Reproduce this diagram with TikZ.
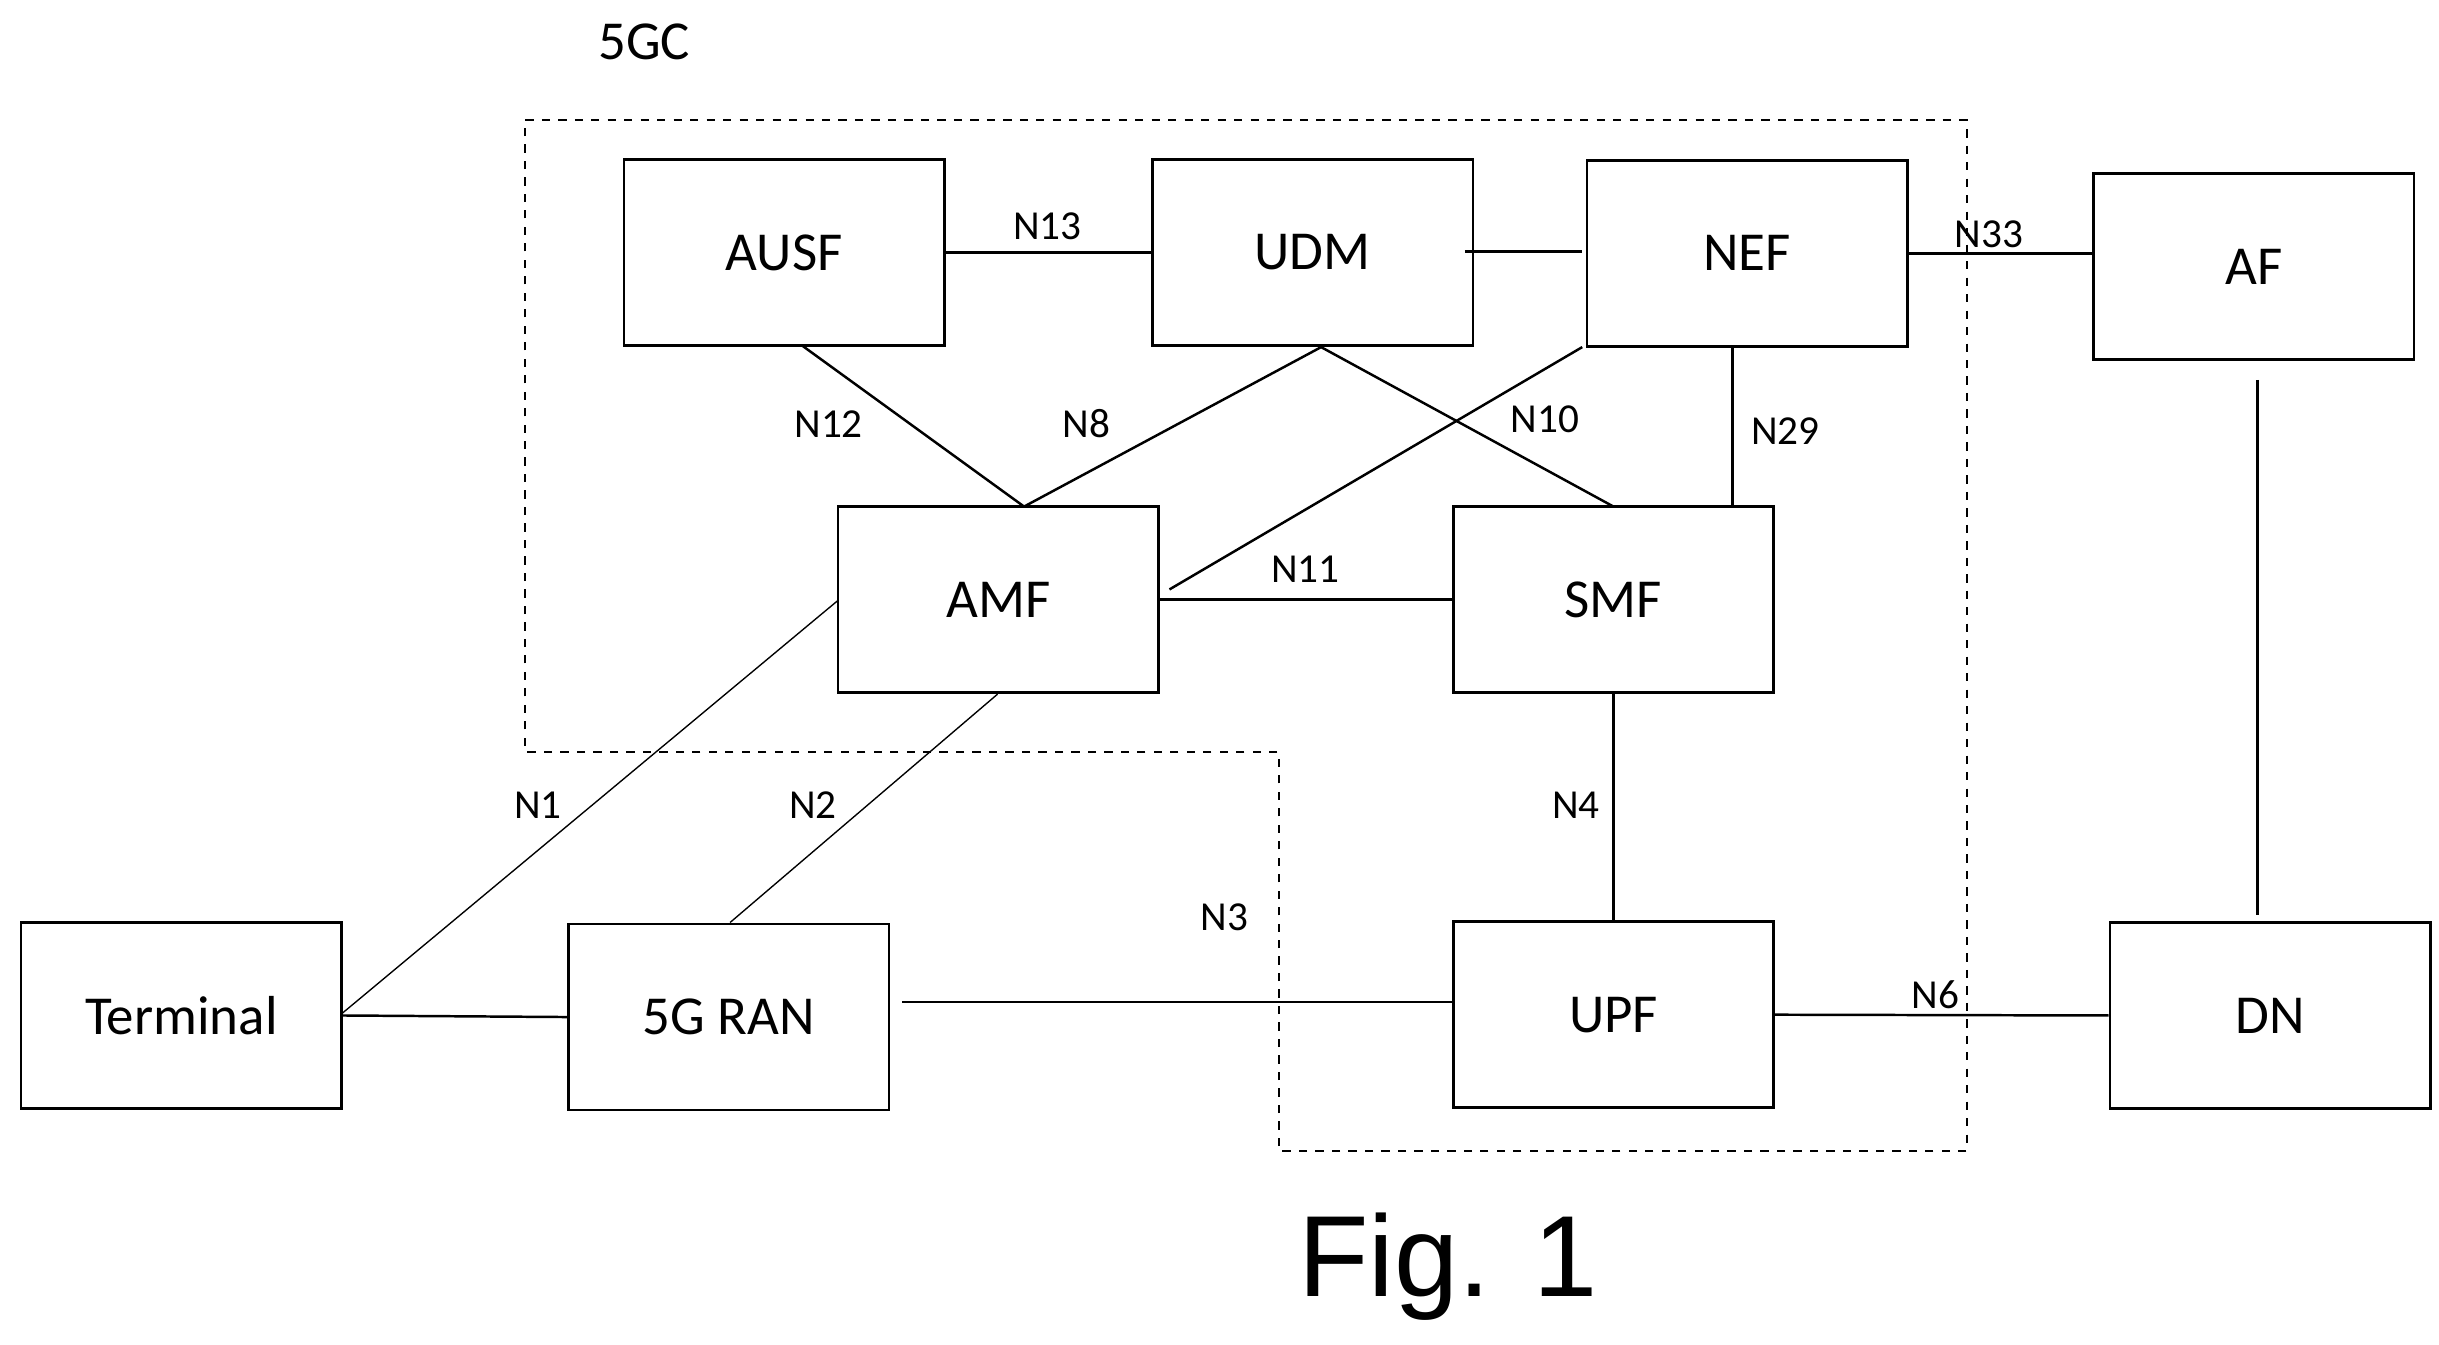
\documentclass[tikz,border=0pt]{standalone}
\usepackage{fontspec}
\setmainfont{Carlito}
\newfontfamily\figfont{Liberation Sans}
\begin{document}
\begin{tikzpicture}[x=0.02cm,y=-0.02cm,
  box/.style={draw,line width=0.9pt,minimum width=4.1cm,minimum height=2.38cm,font=\fontsize{20}{24}\selectfont,inner sep=0pt},
  lbl/.style={font=\fontsize{15}{18}\selectfont},
  ln/.style={line width=0.9pt},
  thin/.style={line width=0.5pt}]
\useasboundingbox (0,0) rectangle (1560,860);
\draw[dashed,line width=0.8pt] (336,77)--(1258,77)--(1258,736)--(818,736)--(818,481)--(336,481)--cycle;
\node[font=\fontsize{20}{24}\selectfont] (gc) at (412,27) {5GC};
\node[box] (ausf) at (501.5,161.5) {AUSF};
\node[box] (udm) at (839.5,161.5) {UDM};
\node[box] (nef) at (1117.5,162) {NEF};
\node[box] (af) at (1441.5,170.5) {AF};
\node[box] (amf) at (638.5,383.5) {AMF};
\node[box] (smf) at (1032,383.5) {SMF};
\node[box] (term) at (116,649.5) {Terminal};
\node[box] (ran) at (466,650.5) {5G RAN};
\node[box] (upf) at (1032,649) {UPF};
\node[box] (dn) at (1452,649.5) {DN};
\coordinate (c1) at (937,161); \coordinate (c2) at (1012,161);
\draw[ln] (ausf.east) -- (udm.west);
\draw[ln] (c1) -- (c2);
\draw[ln] (nef.east) -- (af.west |- nef.east);
\draw[ln] (513,221) -- (655,324);
\draw[ln] (845,222) -- (655,324);
\draw[ln] (845,222) -- (1032,324);
\draw[ln] (1012,222) -- (748,377);
\draw[ln] (1108,222) -- (1108,324);
\draw[ln] (amf.east) -- (smf.west);
\draw[thin] (536,384) -- (219,648);
\draw[thin] (638,444) -- (467,590);
\draw[ln] (term.east) -- (ran.west);
\draw[ln] (577,641) -- (929,641);
\draw[ln] (smf.south) -- (upf.north);
\draw[ln] (upf.east) -- (dn.west);
\draw[ln] (1444,243) -- (1444,585);
\node[lbl] (l13) at (670,145) {N13};
\node[lbl] (l33) at (1272,150) {N33};
\node[lbl] (l12) at (530,271) {N12};
\node[lbl] (l8) at (695,271) {N8};
\node[lbl] (l10) at (988,268) {N10};
\node[lbl] (l29) at (1142,276) {N29};
\node[lbl] (l11) at (835,364) {N11};
\node[lbl] (l1) at (344,515) {N1};
\node[lbl] (l2) at (520,515) {N2};
\node[lbl] (l3) at (783,587) {N3};
\node[lbl] (l4) at (1008,515) {N4};
\node[lbl] (l6) at (1238,636) {N6};
\node[font=\figfont\fontsize{42}{46}\selectfont] (fig) at (926,810) {Fig. 1};
\end{tikzpicture}
\end{document}
